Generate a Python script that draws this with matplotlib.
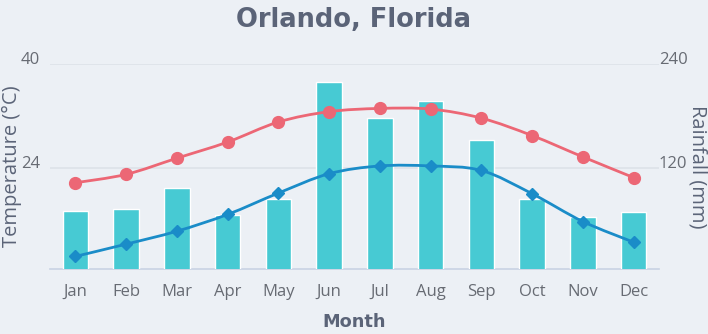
#!/usr/bin/env python
import numpy as np
import matplotlib.pyplot as plt
from matplotlib.path import Path
from matplotlib.patches import PathPatch

months = ['Jan', 'Feb', 'Mar', 'Apr', 'May', 'Jun',
          'Jul', 'Aug', 'Sep', 'Oct', 'Nov', 'Dec']
temp_high = [21.7, 23.0, 25.5, 28.0, 31.1, 32.7, 33.2, 33.1, 31.7, 29.0, 25.7, 22.5]
temp_low = [10.3, 12.2, 14.2, 16.8, 20.1, 23.1, 24.3, 24.3, 23.6, 20.0, 15.7, 12.5]
rainfall = [70, 72, 97, 65, 84, 220, 178, 198, 152, 84, 63, 68]

BG = '#ecf0f5'
TEXT = '#5b6478'
TICK = '#676b73'


def smooth_path(xs, ys):
    # catmull-rom style spline as bezier segments
    pts = np.column_stack([xs, ys])
    n = len(pts)
    verts = [pts[0]]
    codes = [Path.MOVETO]
    for i in range(n - 1):
        p0 = pts[max(i - 1, 0)]
        p1 = pts[i]
        p2 = pts[i + 1]
        p3 = pts[min(i + 2, n - 1)]
        c1 = p1 + (p2 - p0) / 6.0
        c2 = p2 - (p3 - p1) / 6.0
        verts += [c1, c2, p2]
        codes += [Path.CURVE4] * 3
    return Path(verts, codes)


def plot_orlando():
    x = np.arange(len(months))

    fig = plt.figure(figsize=(7.08, 3.34), dpi=100, facecolor=BG)
    ax = fig.add_axes([0.0706, 0.1955, 0.8602, 0.6114])
    ax2 = ax.twinx()

    # rain bars on the back axis
    ax2.set_zorder(1)
    ax.set_zorder(2)
    ax.patch.set_visible(False)
    ax2.patch.set_facecolor(BG)
    ax2.patch.set_visible(True)

    ax2.bar(x, rainfall, 0.5, color='#47cad3', edgecolor='white', linewidth=1, zorder=3)
    ax2.set_ylim(2.6, 240)
    ax2.set_yticks([120, 240])
    ax2.grid(axis='y', color='#dde2e8', linewidth=1.2, zorder=0)
    ax2.set_axisbelow(True)

    # temperature lines
    for vals, col, mk, ms in [(temp_high, '#ec6775', 'o', 8.5),
                              (temp_low, '#1a8cc8', 'D', 6.5)]:
        ax.add_patch(PathPatch(smooth_path(x, vals), facecolor='none',
                               edgecolor=col, linewidth=2.0, zorder=3))
        ax.plot(x, vals, linestyle='none', marker=mk, markersize=ms,
                color=col, zorder=4)
    ax.set_ylim(8.4, 40)
    ax.set_yticks([24, 40])
    ax.set_xlim(-0.5, 11.5)
    ax.set_xticks(x)
    ax.set_xticklabels(months)

    for a in (ax, ax2):
        for s in a.spines.values():
            s.set_visible(False)
    ax2.spines['bottom'].set_visible(True)
    ax2.spines['bottom'].set_color('#c9d3e3')
    ax2.spines['bottom'].set_linewidth(1.2)

    ax.tick_params(axis='both', length=0, labelsize=12, labelcolor=TICK)
    ax.tick_params(axis='x', pad=11)
    ax.tick_params(axis='y', pad=7)
    ax2.tick_params(axis='y', length=0, labelsize=12, labelcolor=TICK, pad=0)
    for lab in ax.get_xticklabels() + ax.get_yticklabels() + ax2.get_yticklabels():
        lab.set_fontfamily('Open Sans')
    for lab in ax.get_yticklabels() + ax2.get_yticklabels():
        lab.set_verticalalignment('baseline')

    ax.set_ylabel('Temperature (°C)', fontsize=14.5, color=TEXT, family='Open Sans',
                  va='center')
    ax.yaxis.set_label_coords(-0.0624, 0.5)
    ax2.set_ylabel('Rainfall (mm)', fontsize=14.5, color=TEXT, family='Open Sans',
                   rotation=270, va='center')
    ax2.yaxis.set_label_coords(1.064, 0.5)
    ax.set_xlabel('Month', fontsize=12.8, fontweight='bold', color=TEXT, va='center')
    ax.xaxis.set_label_coords(0.5, -0.261)

    fig.text(0.5, 0.94, 'Orlando, Florida', ha='center', va='center',
             fontsize=18.5, fontweight='bold', color=TEXT)

    plt.savefig('out.png', dpi=100, facecolor=BG)


if __name__ == "__main__":
    plot_orlando()
